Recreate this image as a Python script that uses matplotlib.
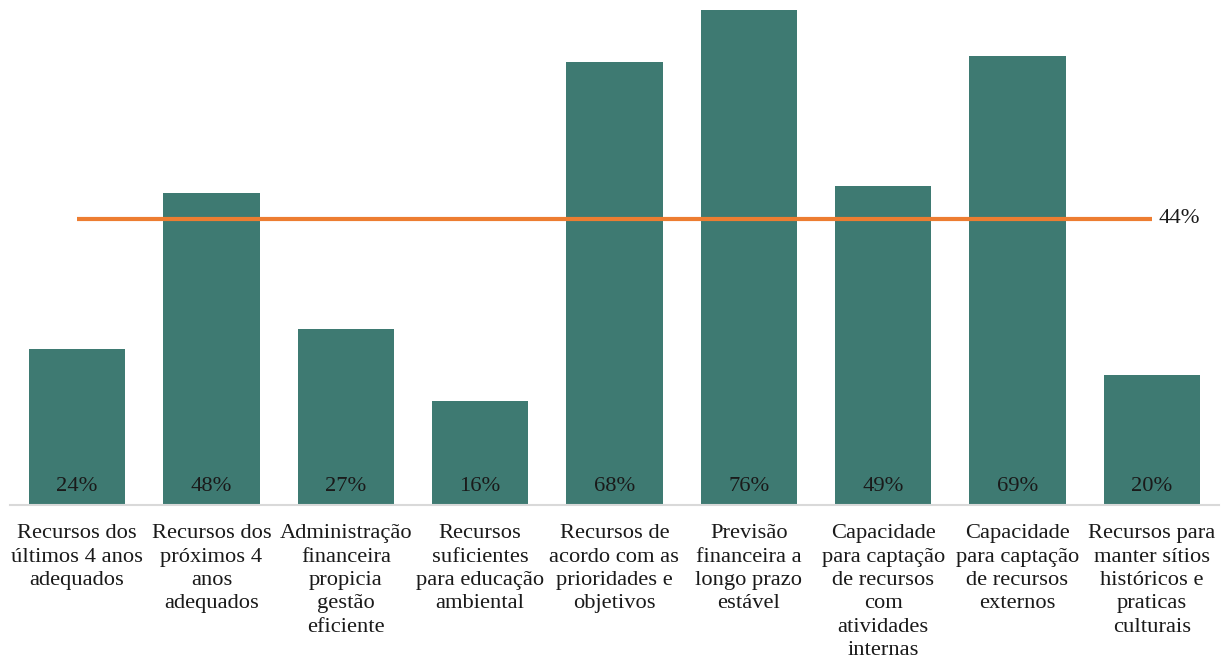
import matplotlib.pyplot as plt
import numpy as np

plt.rcParams['font.family'] = ['Liberation Serif', 'DejaVu Serif']

# Categories and share of positive answers per item
categorias = [
    "Recursos dos\núltimos 4 anos\nadequados",
    "Recursos dos\npróximos 4\nanos\nadequados",
    "Administração\nfinanceira\npropicia\ngestão\neficiente",
    "Recursos\nsuficientes\npara educação\nambiental",
    "Recursos de\nacordo com as\nprioridades e\nobjetivos",
    "Previsão\nfinanceira a\nlongo prazo\nestável",
    "Capacidade\npara captação\nde recursos\ncom\natividades\ninternas",
    "Capacidade\npara captação\nde recursos\nexternos",
    "Recursos para\nmanter sítios\nhistóricos e\npraticas\nculturais",
]
valores = [0.24, 0.48, 0.27, 0.16, 0.68, 0.76, 0.49, 0.69, 0.20]
media = 0.44

cor_barra = '#3e7a72'
cor_media = '#ed7d31'

fig = plt.figure(figsize=(12.24, 6.71), dpi=100)
ax = fig.add_axes([10 / 1224, 166 / 671, 1209 / 1224, 505 / 671])

x = np.arange(len(categorias))
ax.bar(x, valores, width=0.715, color=cor_barra, zorder=2)

# average line across the bar centres
ax.plot([x[0], x[-1]], [media, media], color=cor_media, linewidth=3, zorder=3,
        solid_capstyle='butt')
ax.annotate(f"{media:.0%}", xy=(x[-1], media), xytext=(5, 0),
            textcoords='offset points', ha='left', va='center',
            fontsize=16.2, color='#1a1a1a')

# value labels at the foot of each bar
for xi, v in zip(x, valores):
    ax.annotate(f"{v:.0%}", xy=(xi, 0), xytext=(0, 13),
                textcoords='offset points', ha='center', va='center',
                fontsize=16.2, color='#1a1a1a', zorder=4)

ax.set_xlim(-0.5, len(categorias) - 0.5)
ax.set_ylim(0, 0.776)
ax.set_xticks(x)
ax.set_xticklabels(categorias, fontsize=16.2, linespacing=1.31, color='#1a1a1a')
ax.tick_params(axis='x', length=0, pad=14)
ax.set_yticks([])

for side in ['top', 'right', 'left']:
    ax.spines[side].set_visible(False)
ax.spines['bottom'].set_color('#d9d9d9')
ax.spines['bottom'].set_linewidth(1.5)

fig.savefig('out.png', dpi=100)
